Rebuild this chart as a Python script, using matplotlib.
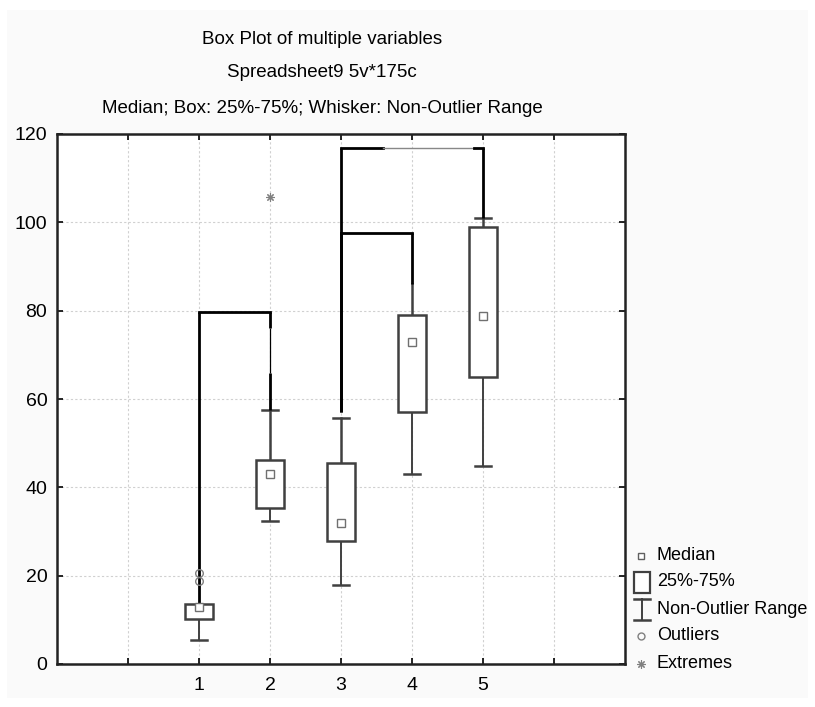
import matplotlib
matplotlib.use("Agg")
import matplotlib.pyplot as plt
from matplotlib.patches import Rectangle

plt.rcParams['font.family'] = ['Liberation Sans', 'DejaVu Sans']

# ---- data ----
categories = ['1', '2', '3', '4', '5']
positions = [1, 2, 3, 4, 5]
medians = [13.0, 43.0, 32.0, 73.0, 78.7]
q1 = [10.2, 35.3, 27.8, 57.1, 65.0]
q3 = [13.6, 46.3, 45.6, 79.0, 99.0]
whisk_lo = [5.5, 32.3, 17.8, 43.0, 44.8]
whisk_hi = [13.6, 57.4, 55.7, 86.0, 101.0]
show_top_cap = [False, True, True, False, True]
outlier_x = [1, 1]
outlier_y = [18.9, 20.5]
extreme_x = [2]
extreme_y = [105.7]

bracket_left = [1, 3, 3]
bracket_right = [2, 4, 5]
bracket_height = [79.6, 97.5, 116.8]
bracket_left_base = [13.6, 57.0, 57.0]
bracket_right_base = [57.4, 86.0, 101.0]

yticks = [0, 20, 40, 60, 80, 100, 120]
xtick_pos = [0, 1, 2, 3, 4, 5, 6]
xtick_labels = ['', '1', '2', '3', '4', '5', '']

W, H = 815, 707
fig = plt.figure(figsize=(W / 100, H / 100), dpi=100, facecolor='white')

def fx(x):
    return x / W

def fy(y):
    return 1 - y / H

# light gray panel background
fig.patches.append(Rectangle((fx(7), fy(698)), fx(808) - fx(7), fy(10) - fy(698),
                             transform=fig.transFigure, facecolor='#fafafa',
                             edgecolor='none', zorder=-10))

ax = fig.add_axes([fx(57), fy(664), fx(625) - fx(57), fy(134) - fy(664)])
ax.set_facecolor('white')
ax.set_xlim(-1, 7)
ax.set_ylim(0, 120)
ax.set_yticks(yticks)
ax.set_xticks(xtick_pos)
ax.set_xticklabels(xtick_labels)
ax.tick_params(direction='in', length=4, width=1.2, top=True, right=True,
               labelsize=14, colors='black', pad=7)
ax.tick_params(axis='x', pad=9)
for s in ax.spines.values():
    s.set_linewidth(1.8)
    s.set_color('#222222')
ax.grid(True, color='#d0d0d0', linestyle=(0, (2, 2)), linewidth=0.8)
ax.set_axisbelow(True)

box_w = 0.40
cap_w = 0.22
box_col = '#404040'
for i, p in enumerate(positions):
    ax.plot([p, p], [whisk_lo[i], q1[i]], color=box_col, lw=1.4, zorder=3)
    ax.plot([p - cap_w / 2, p + cap_w / 2], [whisk_lo[i]] * 2, color=box_col, lw=1.8, zorder=3)
    ax.plot([p, p], [q3[i], whisk_hi[i]], color=box_col, lw=1.8, zorder=3)
    if show_top_cap[i]:
        ax.plot([p - cap_w / 2, p + cap_w / 2], [whisk_hi[i]] * 2, color=box_col, lw=1.8, zorder=3)
    ax.add_patch(Rectangle((p - box_w / 2, q1[i]), box_w, q3[i] - q1[i],
                           facecolor='white', edgecolor=box_col, lw=1.8, zorder=4))

# brackets
for i in range(len(bracket_left)):
    l, r, h = bracket_left[i], bracket_right[i], bracket_height[i]
    ax.plot([l, l], [bracket_left_base[i], h], color='black', lw=2, zorder=5,
            solid_capstyle='butt')
    if i == 0:
        # right leg rendered thin in its middle section
        ax.plot([r, r], [76.1, h], color='black', lw=2, zorder=5, solid_capstyle='butt')
        ax.plot([r, r], [65.9, 76.1], color='black', lw=0.9, zorder=5, solid_capstyle='butt')
        ax.plot([r, r], [bracket_right_base[i], 65.9], color='black', lw=2, zorder=5,
                solid_capstyle='butt')
    else:
        ax.plot([r, r], [bracket_right_base[i], h], color='black', lw=2, zorder=5,
                solid_capstyle='butt')
    if i == 2:
        mid_a, mid_b = l + 0.59, r - 0.13
        ax.plot([l, mid_a], [h, h], color='black', lw=2, zorder=5)
        ax.plot([mid_a, mid_b], [h, h], color='#888888', lw=1, zorder=5)
        ax.plot([mid_b, r], [h, h], color='black', lw=2, zorder=5)
    else:
        ax.plot([l, r], [h, h], color='black', lw=2, zorder=5)

# medians
ax.plot(positions, medians, linestyle='none', marker='s', markersize=5.5,
        markerfacecolor='white', markeredgecolor='#707070', markeredgewidth=1, zorder=7)
# outliers and extremes
ax.plot(outlier_x, outlier_y, linestyle='none', marker='o', markersize=5.5,
        markerfacecolor='none', markeredgecolor='#808080', markeredgewidth=1, zorder=7)
ax.plot(extreme_x, extreme_y, linestyle='none', marker=(8, 2, 0), markersize=6,
        markeredgecolor='#808080', markeredgewidth=0.8, zorder=7)

# titles
fig.text(fx(322), fy(44), 'Box Plot of multiple variables', ha='center', va='baseline', fontsize=13.5)
fig.text(fx(322), fy(77), 'Spreadsheet9 5v*175c', ha='center', va='baseline', fontsize=13.5)
fig.text(fx(322), fy(113), 'Median; Box: 25%-75%; Whisker: Non-Outlier Range', ha='center',
         va='baseline', fontsize=13.5)

# legend (manual)
lg = fig.add_axes([0, 0, 1, 1], facecolor='none')
lg.set_xlim(0, W)
lg.set_ylim(H, 0)
lg.axis('off')
lg.plot([641], [556], marker='s', markersize=5, markerfacecolor='white',
        markeredgecolor='#606060', markeredgewidth=1, linestyle='none')
lg.add_patch(Rectangle((634, 572), 16, 21, facecolor='white', edgecolor='#404040', lw=1.6))
lg.plot([642, 642], [599, 620], color='#404040', lw=1.4)
lg.plot([634, 650], [599, 599], color='#404040', lw=1.8)
lg.plot([634, 650], [620, 620], color='#404040', lw=1.8)
lg.plot([641], [636], marker='o', markersize=5, markerfacecolor='none',
        markeredgecolor='#808080', markeredgewidth=1, linestyle='none')
lg.plot([641], [664], marker=(8, 2, 0), markersize=6, markeredgecolor='#808080',
        markeredgewidth=0.8, linestyle='none')
legend_labels = ['Median', '25%-75%', 'Non-Outlier Range', 'Outliers', 'Extremes']
legend_y = [555, 582, 609, 636, 663]
for lab, yy in zip(legend_labels, legend_y):
    lg.text(657, yy, lab, ha='left', va='center', fontsize=13)

fig.savefig('out.png', dpi=100, facecolor='white')
